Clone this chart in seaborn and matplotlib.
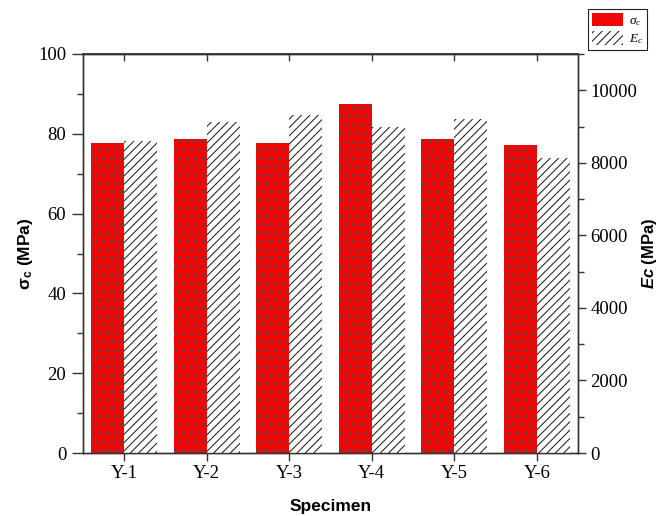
import numpy as np
import pandas as pd
import matplotlib
matplotlib.use("Agg")
import matplotlib.pyplot as plt
import seaborn as sns
from matplotlib.patches import Patch
from matplotlib.ticker import MultipleLocator

# ---- data ----
specimens = ["Y-1", "Y-2", "Y-3", "Y-4", "Y-5", "Y-6"]
sigma_c = [77.7, 78.7, 77.7, 87.5, 78.7, 77.2]      # MPa (left axis)
E_c = [8595, 9118, 9311, 8981, 9201, 8127]          # MPa (right axis)
series = ["sigma", "E"]
left_ticks = [0, 20, 40, 60, 80, 100]
right_ticks = [0, 2000, 4000, 6000, 8000, 10000]

sns.set_theme(style="ticks")
plt.rcParams["font.family"] = ["Liberation Serif", "DejaVu Serif"]
plt.rcParams["text.color"] = "black"
plt.rcParams["axes.labelcolor"] = "black"
plt.rcParams["xtick.color"] = "black"
plt.rcParams["ytick.color"] = "black"
plt.rcParams["mathtext.fontset"] = "custom"
plt.rcParams["mathtext.rm"] = "Liberation Serif"
plt.rcParams["mathtext.it"] = "Liberation Serif:italic"
plt.rcParams["mathtext.bf"] = "Liberation Sans:bold"
try:
    plt.rcParams["mathtext.bfit"] = "Liberation Sans:bold:italic"
except KeyError:
    pass

df1 = pd.DataFrame({"Specimen": specimens * 2,
                    "Series": [series[0]] * 6 + [series[1]] * 6,
                    "Value": list(sigma_c) + [0] * 6})
df2 = pd.DataFrame({"Specimen": specimens * 2,
                    "Series": [series[0]] * 6 + [series[1]] * 6,
                    "Value": [0] * 6 + list(E_c)})

fig = plt.figure(figsize=(6.6, 5.16), dpi=100)
ax1 = fig.add_axes([83 / 660, 1 - 453 / 516, (578 - 83) / 660, (453 - 54) / 516])
ax2 = ax1.twinx()

red = "#ff0000"
dot_col = "#a02a2a"
DOT_LW = 2.6
LINE_LW = 0.7

plt.rcParams["hatch.linewidth"] = DOT_LW
sns.barplot(data=df1, x="Specimen", y="Value", hue="Series", hue_order=series,
            palette=[red, "white"], errorbar=None, width=0.8, ax=ax1, legend=False)
plt.rcParams["hatch.linewidth"] = LINE_LW
sns.barplot(data=df2, x="Specimen", y="Value", hue="Series", hue_order=series,
            palette=[red, "white"], errorbar=None, width=0.8, ax=ax2, legend=False)

def style_red(p):
    p.set_facecolor(red)
    p.set_edgecolor(dot_col)
    p.set_linewidth(0)
    p.set_hatch("..")
    if hasattr(p, "set_hatch_linewidth"):
        p.set_hatch_linewidth(DOT_LW)

def style_hatch(p):
    p.set_facecolor("white")
    p.set_edgecolor("#111111")
    p.set_linewidth(0)
    p.set_hatch("////")
    if hasattr(p, "set_hatch_linewidth"):
        p.set_hatch_linewidth(LINE_LW)

for ax in (ax1, ax2):
    for p in ax.containers[0]:
        style_red(p)
    for p in ax.containers[1]:
        style_hatch(p)

ax1.set_xlim(-0.5, 5.5)
ax1.set_ylim(0, 100)
ax2.set_ylim(0, 11000)

ax1.set_yticks(left_ticks)
ax1.yaxis.set_minor_locator(MultipleLocator(10))
ax2.set_yticks(right_ticks)
ax2.yaxis.set_minor_locator(MultipleLocator(1000))

spine_col = "#333333"
for ax in (ax1, ax2):
    for s in ax.spines.values():
        s.set_visible(True)
        s.set_linewidth(1.0)
        s.set_color(spine_col)

ax1.tick_params(axis="y", which="major", direction="out", length=8, width=1,
                color=spine_col, labelsize=13.5, pad=4)
ax1.tick_params(axis="y", which="minor", direction="out", length=4, width=1,
                color=spine_col)
ax2.tick_params(axis="y", which="major", direction="out", length=6, width=1,
                color=spine_col, labelsize=13.5, pad=3)
ax2.tick_params(axis="y", which="minor", direction="out", length=4, width=1,
                color=spine_col)
ax1.tick_params(axis="x", which="major", direction="out", length=6, width=1,
                color=spine_col, labelsize=13.5, pad=3, top=False)

sec = ax1.secondary_xaxis("top")
sec.set_xticks(range(len(specimens)))
sec.tick_params(axis="x", direction="in", length=5, width=1, color=spine_col,
                labeltop=False)
sec.spines["top"].set_color(spine_col)

ax1.set_xlabel("Specimen", fontfamily="Liberation Sans", fontweight="bold",
               fontsize=12.5, labelpad=12)
ax1.set_ylabel(r"σ$_{\mathbf{c}}$ (MPa)", fontfamily="Liberation Sans",
               fontweight="bold", fontsize=12.5, labelpad=2)
ax2.set_ylabel(r"$\mathbfit{Ec}$ (MPa)", fontfamily="Liberation Sans",
               fontweight="bold", fontsize=12, labelpad=2)

plt.rcParams["hatch.linewidth"] = DOT_LW
h_red = Patch(facecolor=red, edgecolor=dot_col, linewidth=0, hatch="..")
plt.rcParams["hatch.linewidth"] = LINE_LW
h_hat = Patch(facecolor="white", edgecolor="#111111", linewidth=0, hatch="////")
if hasattr(h_red, "set_hatch_linewidth"):
    h_red.set_hatch_linewidth(DOT_LW)
    h_hat.set_hatch_linewidth(LINE_LW)
leg = fig.legend([h_red, h_hat], [r"$\sigma_c$", r"$E_c$"], loc="upper right",
                 bbox_to_anchor=(0.980, 0.983), fontsize=9.5, frameon=True,
                 fancybox=False, framealpha=1, edgecolor="#222222",
                 handlelength=2.4, handleheight=1.2, handletextpad=0.4,
                 labelspacing=0.25, borderpad=0.3, borderaxespad=0)
leg.get_frame().set_linewidth(0.8)

fig.savefig("out.png", dpi=100)
